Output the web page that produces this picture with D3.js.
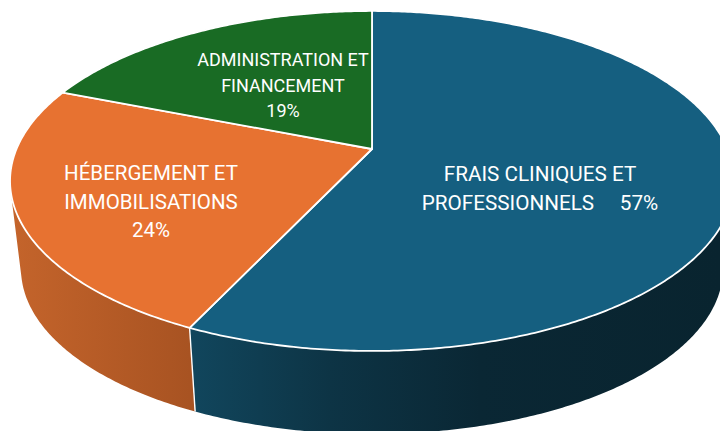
<!DOCTYPE html>
<html lang="fr">
<head>
<meta charset="utf-8">
<title>Répartition des dépenses</title>
<script src="https://cdn.jsdelivr.net/npm/d3@7/dist/d3.min.js"></script>
<style>
html,body{margin:0;padding:0;background:#fff;overflow:hidden}
svg{display:block}
text{font-family:Roboto,"Open Sans",sans-serif;fill:#fff;white-space:pre}
</style>
</head>
<body>
<svg id="chart" width="720" height="431"></svg>
<script>
const categories = ["FRAIS CLINIQUES ET PROFESSIONNELS", "HÉBERGEMENT ET IMMOBILISATIONS", "ADMINISTRATION ET FINANCEMENT"];
const values = [57, 24, 19];
const labelLines = [
  ["FRAIS CLINIQUES ET", "PROFESSIONNELS     57%"],
  ["HÉBERGEMENT ET", "IMMOBILISATIONS", "24%"],
  ["ADMINISTRATION ET", "FINANCEMENT", "19%"]
];
const topColors = ["#155F80", "#E77231", "#196B24"];
const wallStops = [
  [[190, "#11465d"], [330, "#0d3445"], [480, "#0a2734"], [720, "#09242f"]],
  [[12, "#c4642b"], [190, "#a85322"]],
  [[0, "#124d1a"], [720, "#124d1a"]]
];

// Layout of the labels (x centre, first baseline, line step, font size)
const labelLayout = [[540, 181, 28.5, 20.7], [151, 180, 28.5, 20.5], [283, 66, 25.5, 18]];

// Perspective projection of the pie disc
const W = 720, H = 431;
const cx = 372, apexY = 149, persp = -0.188, kx = 355.5, ky = 164;
const lowerScaleX = 351 / 362, lowerScaleY = 165 / 170, lowerApexY = 238;

function project(angle, r, lower) {
  const u = r * Math.sin(angle), v = -r * Math.cos(angle);
  const w = 1 + persp * v;
  const sx = lower ? lowerScaleX : 1, sy = lower ? lowerScaleY : 1;
  return [cx + sx * kx * u / w, (lower ? lowerApexY : apexY) + sy * ky * v / w];
}

const svg = d3.select("#chart");
const defs = svg.append("defs");
const slices = d3.pie().sort(null).value(d => d)(values);
const line = d3.line();

function sampleAngles(a0, a1) {
  const n = Math.max(2, Math.ceil((a1 - a0) / 0.01));
  return d3.range(n + 1).map(i => a0 + (a1 - a0) * i / n);
}

wallStops.forEach((stops, i) => {
  const x0 = stops[0][0], x1 = stops[stops.length - 1][0];
  const g = defs.append("linearGradient")
    .attr("id", "wall" + i)
    .attr("gradientUnits", "userSpaceOnUse")
    .attr("x1", x0).attr("x2", x1).attr("y1", 0).attr("y2", 0);
  g.selectAll("stop").data(stops).join("stop")
    .attr("offset", d => (d[0] - x0) / (x1 - x0))
    .attr("stop-color", d => d[1]);
});

// A quad of the wall, wound the same way whichever side of the silhouette it is on
function quad(a, b) {
  const pts = [project(a, 1), project(a, 1, true), project(b, 1, true), project(b, 1)];
  if (d3.polygonArea(pts) < 0) pts.reverse();
  return line(pts) + "Z";
}

// Side walls: a sweep of quads between the upper and the lower rim
svg.append("g").selectAll("path").data(slices).join("path")
  .attr("fill", (d, i) => `url(#wall${i})`)
  .attr("fill-rule", "nonzero")
  .attr("d", d => d3.pairs(sampleAngles(d.startAngle, d.endAngle)).map(([a, b]) => quad(a, b)).join(""));

// White seam on the wall between the front slices
svg.append("path")
  .attr("fill", "none").attr("stroke", "#fff").attr("stroke-width", 1.4)
  .attr("d", line([project(slices[0].endAngle, 1), project(slices[0].endAngle, 1, true)]));

// Top face
svg.append("g").selectAll("path").data(slices).join("path")
  .attr("fill", (d, i) => topColors[i])
  .attr("stroke", "#fff").attr("stroke-width", 1.8).attr("stroke-linejoin", "round")
  .attr("d", d => line([project(0, 0), ...sampleAngles(d.startAngle, d.endAngle).map(a => project(a, 1))]) + "Z");

// Labels
const labels = svg.append("g").attr("text-anchor", "middle");
labelLines.forEach((lines, i) => {
  const [x, y, step, size] = labelLayout[i];
  labels.append("text").attr("font-size", size).attr("aria-label", categories[i]).selectAll("tspan").data(lines).join("tspan")
    .attr("x", x).attr("y", (d, j) => y + j * step)
    .attr("xml:space", "preserve")
    .text(d => d);
});
</script>
</body>
</html>
